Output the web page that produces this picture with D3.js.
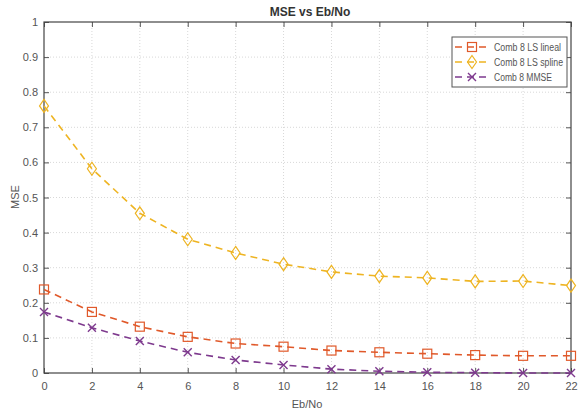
<!DOCTYPE html>
<html><head><meta charset="utf-8">
<script src="https://cdn.jsdelivr.net/npm/d3@7"></script>
<style>body{margin:0;background:#fff}svg{display:block}</style>
</head><body>
<svg id="c" width="578" height="411"></svg>
<script>
const ebno = [0,2,4,6,8,10,12,14,16,18,20,22];
const lsLineal = [0.238,0.174,0.132,0.103,0.084,0.075,0.064,0.059,0.055,0.051,0.049,0.049];
const lsSpline = [0.761,0.582,0.455,0.381,0.342,0.310,0.288,0.276,0.271,0.261,0.262,0.249];
const mmse = [0.174,0.129,0.091,0.059,0.037,0.023,0.011,0.005,0.002,0.001,0.0,0.0];
const xTicks = [0,2,4,6,8,10,12,14,16,18,20,22];
const yTicks = [0,0.1,0.2,0.3,0.4,0.5,0.6,0.7,0.8,0.9,1];
const seriesNames = ["Comb 8 LS lineal","Comb 8 LS spline","Comb 8 MMSE"];

const svg = d3.select("#c");
const L=44, R=571, T=22, B=373;
const x = d3.scaleLinear().domain([0,22]).range([L,R]);
const y = d3.scaleLinear().domain([0,1]).range([B,T]);
const font = "Liberation Sans, Arial, sans-serif";

// grid
const g = svg.append("g");
g.selectAll(".gx").data(xTicks.slice(1,-1)).join("line")
  .attr("x1",d=>x(d)).attr("x2",d=>x(d)).attr("y1",T).attr("y2",B)
  .attr("stroke","#d8d8d8").attr("stroke-dasharray","1,2");
g.selectAll(".gy").data(yTicks.slice(1,-1)).join("line")
  .attr("y1",d=>y(d)).attr("y2",d=>y(d)).attr("x1",L).attr("x2",R)
  .attr("stroke","#d8d8d8").attr("stroke-dasharray","1,2");

// axes
const ax = (gen, tr) => svg.append("g").attr("transform",tr).call(gen)
  .call(s=>{s.select(".domain").remove(); s.selectAll("line").attr("stroke","#555");
   s.selectAll("text").attr("fill","#555").style("font-family",font).style("font-size","11px");});
ax(d3.axisBottom(x).tickValues(xTicks).tickSizeInner(-5).tickSizeOuter(0).tickPadding(9), `translate(0,${B})`);
ax(d3.axisTop(x).tickValues(xTicks).tickSizeInner(-5).tickSizeOuter(0).tickFormat(""), `translate(0,${T})`);
ax(d3.axisLeft(y).tickValues(yTicks).tickSizeInner(-5).tickSizeOuter(0).tickPadding(6).tickFormat(d=>d===0||d===1?d3.format("d")(d):d3.format(".1f")(d)), `translate(${L},0)`);
ax(d3.axisRight(y).tickValues(yTicks).tickSizeInner(-5).tickSizeOuter(0).tickFormat(""), `translate(${R},0)`);

svg.append("rect").attr("x",L).attr("y",T).attr("width",R-L).attr("height",B-T)
  .attr("fill","none").attr("stroke","#444").attr("stroke-width",1.2);

const colors = ["#e0592a","#eeb422","#7e3a8e"];
const data = [lsLineal, lsSpline, mmse];
const markers = ["square","diamond","x"];

function drawMarker(sel, type, cx, cy, col){
  if(type==="square"){
    sel.append("rect").attr("x",cx-4.5).attr("y",cy-4.5).attr("width",9).attr("height",9)
      .attr("fill","none").attr("stroke",col).attr("stroke-width",1.2);
  } else if(type==="diamond"){
    sel.append("path").attr("d",`M${cx},${cy-6.5}L${cx+4.5},${cy}L${cx},${cy+6.5}L${cx-4.5},${cy}Z`)
      .attr("fill","none").attr("stroke",col).attr("stroke-width",1.2);
  } else {
    sel.append("path").attr("d",`M${cx-4},${cy-4}L${cx+4},${cy+4}M${cx-4},${cy+4}L${cx+4},${cy-4}`)
      .attr("stroke",col).attr("stroke-width",1.4);
  }
}

const line = d3.line().x((d,i)=>x(ebno[i])).y(d=>y(d));
data.forEach((vals,k)=>{
  svg.append("path").datum(vals).attr("d",line).attr("fill","none")
    .attr("stroke",colors[k]).attr("stroke-width",1.6).attr("stroke-dasharray","7,5");
  const mg = svg.append("g");
  vals.forEach((v,i)=>drawMarker(mg, markers[k], x(ebno[i]), y(v), colors[k]));
});

// legend
const legendW = [67,69,58];
const lg = svg.append("g");
lg.append("rect").attr("x",452).attr("y",37).attr("width",115).attr("height",50)
  .attr("fill","#fff").attr("stroke","#555").attr("stroke-width",1);
seriesNames.forEach((n,k)=>{
  const ly = 47 + k*15;
  lg.append("line").attr("x1",455).attr("x2",490).attr("y1",ly).attr("y2",ly)
    .attr("stroke",colors[k]).attr("stroke-width",1.6).attr("stroke-dasharray","7,5");
  drawMarker(lg, markers[k], 472, ly, colors[k]);
  lg.append("text").attr("x",494).attr("y",ly+3.5).text(n)
    .attr("textLength",legendW[k]).attr("lengthAdjust","spacingAndGlyphs")
    .attr("fill","#555").style("font-family",font).style("font-size","10px");
});

// titles
svg.append("text").attr("x",310).attr("y",16).attr("text-anchor","middle").text("MSE vs Eb/No")
  .attr("fill","#333").style("font-family",font).style("font-size","12px").style("font-weight","bold");
svg.append("text").attr("x",307).attr("y",408).attr("text-anchor","middle").text("Eb/No")
  .attr("fill","#555").style("font-family",font).style("font-size","11px");
svg.append("text").attr("transform","translate(19,197) rotate(-90)").attr("text-anchor","middle").text("MSE")
  .attr("fill","#555").style("font-family",font).style("font-size","11px");
</script>
</body></html>
